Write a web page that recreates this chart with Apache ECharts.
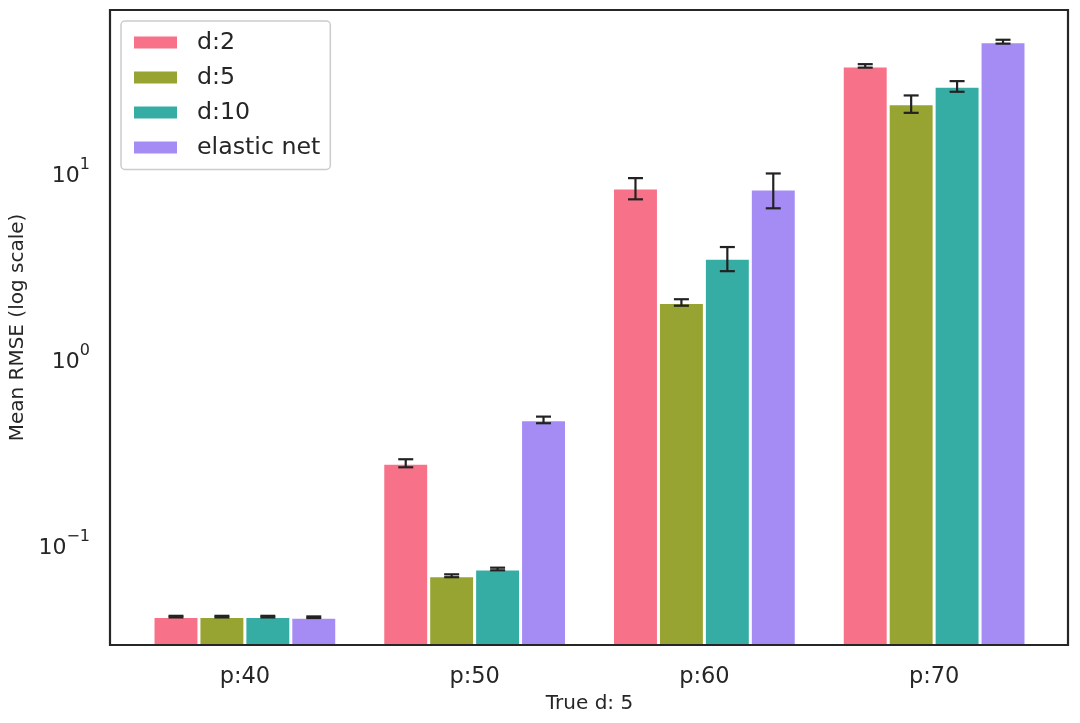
<!DOCTYPE html>
<html>
<head>
<meta charset="utf-8">
<script src="https://cdn.jsdelivr.net/npm/echarts@6/dist/echarts.min.js"></script>
<style>html,body{margin:0;padding:0;background:#fff}#c{width:1080px;height:723px}</style>
</head>
<body>
<div id="c"></div>
<script>
const categories = ['p:40', 'p:50', 'p:60', 'p:70'];
const seriesNames = ['d:2', 'd:5', 'd:10', 'elastic net'];
const d2Mean = [0.0407, 0.272, 8.2, 37.2];
const d5Mean = [0.0407, 0.0675, 1.99, 23.3];
const d10Mean = [0.0407, 0.0734, 3.44, 28.9];
const enMean = [0.0404, 0.465, 8.1, 50.2];
const d2Err = [0.0004, 0.0135, 1.07, 0.8];
const d5Err = [0.0004, 0.0012, 0.08, 2.5];
const d10Err = [0.0004, 0.0012, 0.51, 1.9];
const enErr = [0.0004, 0.019, 1.72, 1.2];
const colors = ['#f77189', '#97a431', '#36ada4', '#a48cf4'];

const means = [d2Mean, d5Mean, d10Mean, enMean];
const errs = [d2Err, d5Err, d10Err, enErr];
const yMin = 0.02864, yMax = 74.3;
const FONT = 'DejaVu Sans';
const BAR_W = 45.93;

const chart = echarts.init(document.getElementById('c'), null, {renderer: 'canvas'});

const barSeries = seriesNames.map((name, i) => ({
  name: name,
  type: 'bar',
  data: means[i],
  barWidth: BAR_W,
  barGap: '0%',
  clip: true,
  itemStyle: {color: colors[i], borderColor: '#ffffff', borderWidth: 1.5},
  emphasis: {disabled: true},
  z: 2
}));

const errData = [];
seriesNames.forEach((name, i) => {
  categories.forEach((c, j) => {
    errData.push([j, means[i][j] - errs[i][j], means[i][j] + errs[i][j], i]);
  });
});

const errSeries = {
  type: 'custom',
  name: 'err',
  data: errData,
  encode: {x: 0, y: [1, 2]},
  z: 5,
  silent: true,
  renderItem: function (params, api) {
    const cat = api.value(0);
    const lo = api.value(1), hi = api.value(2), si = api.value(3);
    const pLo = api.coord([cat, lo]);
    const pHi = api.coord([cat, hi]);
    const x = pLo[0] + (si - 1.5) * BAR_W;
    const hw = 7.5;
    const st = {stroke: '#222222', lineWidth: 2.2};
    return {
      type: 'group',
      children: [
        {type: 'line', shape: {x1: x, y1: pLo[1], x2: x, y2: pHi[1]}, style: st},
        {type: 'line', shape: {x1: x - hw, y1: pLo[1], x2: x + hw, y2: pLo[1]}, style: st},
        {type: 'line', shape: {x1: x - hw, y1: pHi[1], x2: x + hw, y2: pHi[1]}, style: st}
      ]
    };
  }
};

const option = {
  backgroundColor: '#ffffff',
  animation: false,
  textStyle: {fontFamily: FONT},
  grid: {left: 130, right: 31, top: 10, bottom: 78, containLabel: false, outerBoundsMode: 'none'},
  legend: {
    data: seriesNames,
    orient: 'vertical',
    left: 121, top: 21,
    padding: [9.5, 10, 10, 11],
    itemWidth: 45, itemHeight: 14, itemGap: 11,
    icon: 'rect',
    backgroundColor: '#ffffff',
    borderColor: '#cccccc', borderWidth: 1.5, borderRadius: 4,
    textStyle: {fontFamily: FONT, fontSize: 23.7, color: '#262626', padding: [0, 0, 0, 14], lineHeight: 24},
    selectedMode: false
  },
  xAxis: {
    type: 'category',
    data: categories,
    name: 'True d: 5',
    nameLocation: 'middle',
    nameGap: 47,
    nameTextStyle: {fontFamily: FONT, fontSize: 20, color: '#262626'},
    axisLine: {show: false},
    axisTick: {show: false},
    axisLabel: {fontFamily: FONT, fontSize: 22.5, color: '#262626', margin: 21},
    splitLine: {show: false}
  },
  yAxis: {
    type: 'log',
    logBase: 10,
    min: yMin, max: yMax,
    startValue: 0.02,
    offset: 20,
    name: 'Mean RMSE (log scale)',
    nameLocation: 'middle',
    nameGap: 81,
    nameTextStyle: {fontFamily: FONT, fontSize: 20, color: '#262626'},
    axisLine: {show: false},
    axisTick: {show: false},
    splitLine: {show: false},
    axisLabel: {
      showMinLabel: false, showMaxLabel: false,
      margin: 20,
      fontSize: 22,
      fontFamily: FONT,
      color: '#262626',
      formatter: function (v) {
        const e = Math.round(Math.log10(v));
        const s = e < 0 ? '\u2212' + (-e) : '' + e;
        return '{b|10}{s|' + s + '}';
      },
      rich: {
        b: {fontFamily: FONT, fontSize: 22, color: '#262626', lineHeight: 30, verticalAlign: 'bottom'},
        s: {fontFamily: FONT, fontSize: 16, color: '#262626', lineHeight: 30, verticalAlign: 'top'}
      }
    }
  },
  graphic: [{
    type: 'rect',
    shape: {x: 110, y: 10, width: 958, height: 635},
    style: {fill: 'none', stroke: '#262626', lineWidth: 2.2},
    z: 10, silent: true
  }],
  series: barSeries.concat([errSeries])
};
chart.setOption(option);
</script>
</body>
</html>
